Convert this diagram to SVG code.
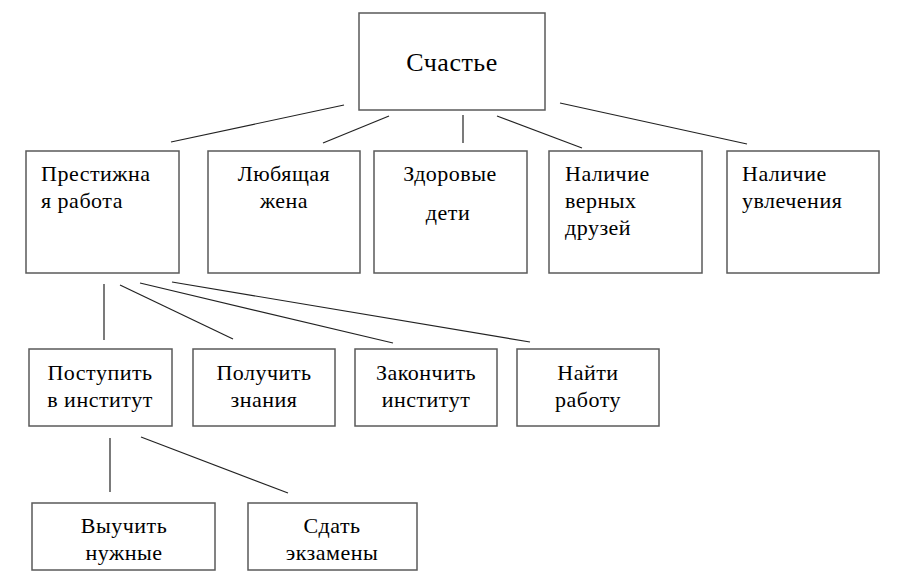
<svg xmlns="http://www.w3.org/2000/svg" width="899" height="585" viewBox="0 0 899 585">
<style>
.box{fill:#fff;stroke:#5a5a5a;stroke-width:1.5}
.t{font-family:"Liberation Serif","DejaVu Serif","Noto Serif",serif;font-size:22px;letter-spacing:0.5px;fill:#000}
.c{text-anchor:middle}
.big{font-size:26px}
#connectors line{stroke:#222;stroke-width:1.2}
</style>
<rect width="899" height="585" fill="#fff"/>
<g id="connectors">
<line x1="344" y1="105" x2="171" y2="142"/>
<line x1="389" y1="116" x2="323" y2="143"/>
<line x1="463" y1="115" x2="463" y2="143"/>
<line x1="497" y1="116" x2="582" y2="148"/>
<line x1="560" y1="103" x2="747" y2="144"/>
<line x1="104" y1="284" x2="104" y2="340"/>
<line x1="120" y1="285" x2="233" y2="339"/>
<line x1="140" y1="283" x2="393" y2="343"/>
<line x1="172" y1="282" x2="530" y2="342"/>
<line x1="110" y1="438" x2="110" y2="492"/>
<line x1="141" y1="437" x2="288" y2="493"/>
</g>
<g id="n-schastye">
<rect class="box" x="359" y="13" width="186" height="97"/>
<text class="t c big" x="452" y="71">Счастье</text>
</g>
<g id="n-prestizh">
<rect class="box" x="26" y="151" width="153" height="122"/>
<text class="t" x="41" y="181">Престижна</text>
<text class="t" x="41" y="208">я работа</text>
</g>
<g id="n-zhena">
<rect class="box" x="208" y="151" width="152" height="122"/>
<text class="t c" x="284" y="181">Любящая</text>
<text class="t c" x="284" y="208">жена</text>
</g>
<g id="n-deti">
<rect class="box" x="374" y="151" width="153" height="122"/>
<text class="t c" x="450" y="181">Здоровые</text>
<text class="t c" x="448" y="220">дети</text>
</g>
<g id="n-druzya">
<rect class="box" x="549" y="151" width="153" height="122"/>
<text class="t" x="565" y="181">Наличие</text>
<text class="t" x="565" y="208">верных</text>
<text class="t" x="565" y="235">друзей</text>
</g>
<g id="n-uvlech">
<rect class="box" x="727" y="151" width="152" height="122"/>
<text class="t" x="742" y="181">Наличие</text>
<text class="t" x="742" y="208">увлечения</text>
</g>
<g id="n-postupit">
<rect class="box" x="29" y="349" width="143" height="77"/>
<text class="t c" x="100" y="380">Поступить</text>
<text class="t c" x="100" y="407">в институт</text>
</g>
<g id="n-znaniya">
<rect class="box" x="193" y="349" width="142" height="77"/>
<text class="t c" x="264" y="380">Получить</text>
<text class="t c" x="264" y="407">знания</text>
</g>
<g id="n-zakonchit">
<rect class="box" x="355" y="349" width="142" height="77"/>
<text class="t c" x="426" y="380">Закончить</text>
<text class="t c" x="426" y="407">институт</text>
</g>
<g id="n-rabotu">
<rect class="box" x="517" y="349" width="142" height="77"/>
<text class="t c" x="588" y="380">Найти</text>
<text class="t c" x="588" y="407">работу</text>
</g>
<g id="n-vyuchit">
<rect class="box" x="32" y="503" width="183" height="67"/>
<text class="t c" x="124" y="533">Выучить</text>
<text class="t c" x="124" y="560">нужные</text>
</g>
<g id="n-sdat">
<rect class="box" x="248" y="503" width="169" height="67"/>
<text class="t c" x="332" y="533">Сдать</text>
<text class="t c" x="332" y="560">экзамены</text>
</g>
</svg>
